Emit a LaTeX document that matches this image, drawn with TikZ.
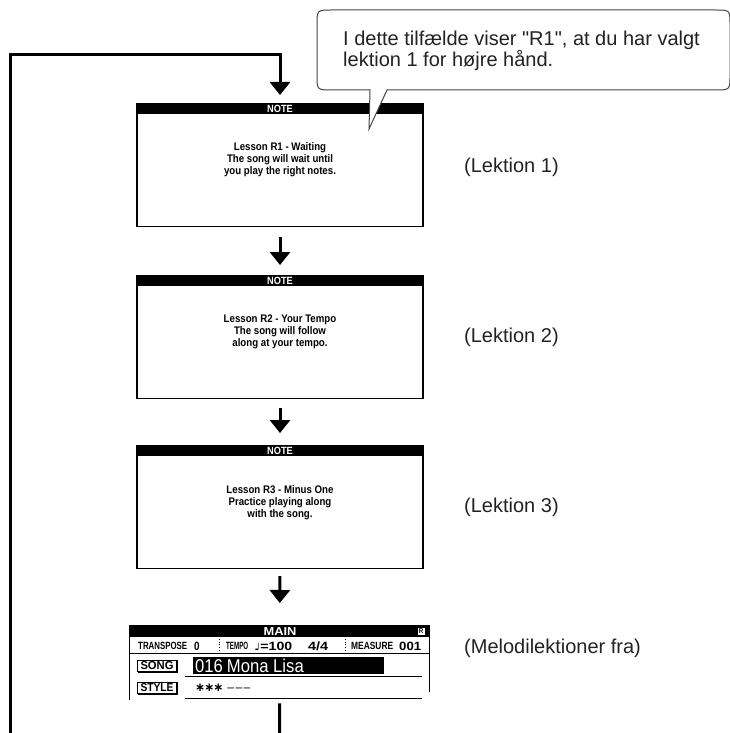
\documentclass[tikz,border=0pt]{standalone}
\usepackage{fontspec}
\usepackage{graphicx}
\setmainfont{Liberation Sans}
\newfontfamily\notefont[FakeStretch=0.88]{Liberation Sans Bold}
\newfontfamily\widefont[FakeStretch=1.12]{Liberation Sans Bold}
\newfontfamily\titlefont[FakeStretch=0.9]{Liberation Sans}
\newfontfamily\symfont{DejaVu Sans}
\font\callfont="Liberation Sans" at 20pt
\usetikzlibrary{arrows.meta}
\definecolor{txt}{HTML}{222222}
\definecolor{callgray}{HTML}{444444}
\newcommand{\fitw}[2]{\resizebox{#1}{\height}{#2}}
\begin{document}
\begin{tikzpicture}[x=1pt,y=-1pt,
  flow/.style={line width=3pt,-{Triangle[width=20pt,length=13pt]}},
  plainline/.style={line width=3pt},
  notebox/.style={draw,line width=1.2pt,minimum width=286pt,minimum height=123pt,anchor=north,inner sep=0pt},
  notetext/.style={font=\notefont\fontsize{11}{12}\selectfont,align=center,inner sep=0pt},
  bartext/.style={font=\notefont\fontsize{10.5}{11}\selectfont,text=white,inner sep=0pt},
  lbl/.style={font=\fontsize{20}{24}\selectfont,text=txt,anchor=west,inner sep=0pt},
  calltext/.style={font=\callfont,text=txt,anchor=base west,inner sep=0pt},
  lcdsmall/.style={font=\notefont\fontsize{10.5}{11}\selectfont,inner sep=0pt,anchor=west},
  lcddigit/.style={font=\notefont\fontsize{12}{12}\selectfont,inner sep=0pt,anchor=west},
  tag/.style={draw,line width=0.8pt,minimum width=39pt,minimum height=11.5pt,inner sep=0pt,font=\notefont\fontsize{11.5}{11.5}\selectfont},
]
\useasboundingbox (0,0) rectangle (729,733);

% note boxes
\node[notebox] (b1) at (280,103) {};
\node[notebox] (b2) at (280,275) {};
\node[notebox] (b3) at (280,445) {};
\foreach \b in {b1,b2,b3}{
  \fill (\b.north west) rectangle ([yshift=-11pt]\b.north east);
  \node[bartext] at ([yshift=-5.7pt]\b.north) {NOTE};
}
\node[notetext] (t1) at (280,160) {Lesson R1 - Waiting\\The song will wait until\\you play the right notes.};
\node[notetext] (t2) at (280,332) {Lesson R2 - Your Tempo\\The song will follow\\along at your tempo.};
\node[notetext] (t3) at (280,503) {Lesson R3 - Minus One\\Practice playing along\\with the song.};

% LCD display
\node[minimum width=301pt,minimum height=75pt,anchor=north west,inner sep=0pt] (lcd) at (129,625) {};
\fill (129,625) rectangle (430,637);
\node[font=\widefont\fontsize{11.5}{12}\selectfont,text=white,inner sep=0pt] (main) at (280,631.5) {MAIN};
\node[fill=white,draw=black,line width=0.5pt,inner sep=0pt,minimum width=8pt,minimum height=8pt,font=\notefont\fontsize{7}{7}\selectfont] (ricon) at (421,631) {R};
\draw[line width=1pt] (129.5,637) -- (129.5,700);
\draw[line width=1pt] (429.5,637) -- (429.5,692);
\draw[line width=1.8pt] (129,653.5) -- (430,653.5);
\node[lcdsmall] (tr) at (138,646) {\fitw{49pt}{TRANSPOSE}};
\node[lcddigit] (tr0) at (194,646) {\fitw{5.5pt}{0}};
\draw[dotted,line width=0.7pt] (219,639) -- (219,651);
\node[lcdsmall] (tp) at (226,646) {\fitw{22pt}{TEMPO}};
\node[lcddigit] (tpv) at (254,646) {\fitw{38pt}{{\symfont\fontsize{10}{10}\selectfont ♩}=100}};
\node[lcddigit] (sig) at (308,646) {\fitw{20pt}{4/4}};
\draw[dotted,line width=0.7pt] (345,639) -- (345,651);
\node[lcdsmall] (ms) at (351,646) {\fitw{42pt}{MEASURE}};
\node[lcddigit] (msv) at (399,646) {\fitw{22pt}{001}};
\node[tag] (song) at (157,666) {\fitw{33pt}{SONG}};
\draw[line width=1.4pt] ([xshift=0.5pt]song.south west) -- (song.south east) -- ([yshift=-0.5pt]song.north east);
\fill (193,657) rectangle (384,674);
\node[font=\titlefont\fontsize{18.5}{18.5}\selectfont,text=white,inner sep=0pt,anchor=west] (title) at (195,665.5) {016\kern4pt Mona Lisa};
\draw[line width=1pt] (185,676.5) -- (422,676.5);
\node[tag] (style) at (157,688) {\fitw{33pt}{STYLE}};
\draw[line width=1.4pt] ([xshift=0.5pt]style.south west) -- (style.south east) -- ([yshift=-0.5pt]style.north east);
\node[inner sep=0pt,anchor=west] (stars) at (195,688) {{\symfont\bfseries\fontsize{12}{12}\selectfont ∗\kern-1pt∗\kern-1pt∗}\kern4pt{\fontsize{12}{12}\selectfont –\kern1.5pt–\kern1.5pt–}};
\draw[line width=1pt] (185,698.5) -- (422,698.5);

% connectors
\coordinate (loopstart) at (10.5,733);
\coordinate (bottomend) at (279.5,733);
\draw[flow,shorten >=8pt] (loopstart) |- ([yshift=48pt]b1.north) -- (b1.north);
\draw[flow,shorten <=10pt,shorten >=10pt] (b1.south) -- (b2.north);
\draw[flow,shorten <=9pt,shorten >=12pt] (b2.south) -- (b3.north);
\draw[flow,shorten <=7pt,shorten >=22pt] (b3.south) -- (lcd.north);
\draw[plainline,shorten <=3pt] (lcd.south) -- (bottomend);

% labels
\node[lbl] (l1) at (464,167) {(Lektion 1)};
\node[lbl] (l2) at (464,337) {(Lektion 2)};
\node[lbl] (l3) at (464,507) {(Lektion 3)};
\node[lbl] (l4) at (464,648) {(Melodilektioner fra)};

% callout
\filldraw[fill=white,draw=callgray,line width=1pt]
  (370,90) -- (332,90) .. controls (317,90) .. (317,75) -- (317,25)
  .. controls (317,10) .. (332,10) -- (715,10) .. controls (730,10) .. (730,25)
  -- (730,75) .. controls (730,90) .. (715,90) -- (387,90) -- (369,129) -- cycle;
\node[calltext] (c1) at (343,46) {I dette tilfælde viser "R1", at du har valgt};
\node[calltext] (c2) at (343,67) {lektion 1 for højre hånd.};
\end{tikzpicture}
\end{document}
